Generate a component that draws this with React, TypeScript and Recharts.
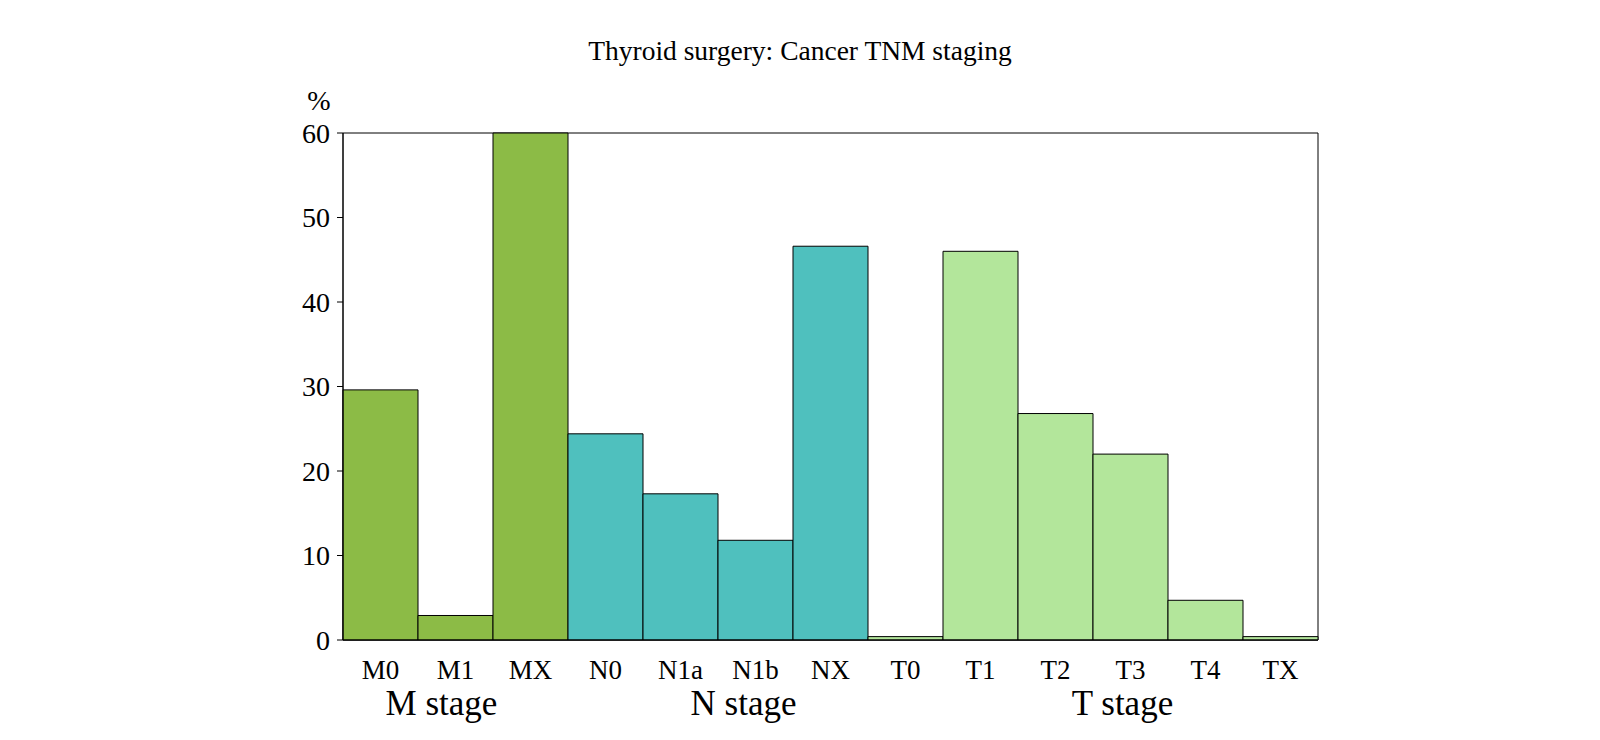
import { BarChart, Bar, XAxis, YAxis, Cell, Label, ReferenceArea } from 'recharts';

const categories = ['M0', 'M1', 'MX', 'N0', 'N1a', 'N1b', 'NX', 'T0', 'T1', 'T2', 'T3', 'T4', 'TX'];
const percentages = [29.6, 2.9, 60, 24.4, 17.3, 11.8, 46.6, 0.4, 46.0, 26.8, 22.0, 4.7, 0.4];
const stages = ['M', 'M', 'M', 'N', 'N', 'N', 'N', 'T', 'T', 'T', 'T', 'T', 'T'];
const yTicks = [0, 10, 20, 30, 40, 50, 60];
const groupLabels = [
  { anchor: 'M1', text: 'M stage' },
  { anchor: 'N1b', text: 'N stage' },
  { anchor: 'T3', text: 'T stage' },
];

const STAGE_COLORS: Record<string, string> = {
  M: '#8cbb46',
  N: '#4fc0be',
  T: '#b3e69b',
};

// group label shift relative to its anchor tick
const GROUP_DX: Record<string, number> = { M1: -14, N1b: -12, T3: -8 };

const chartData = categories.map((name, i) => ({
  name,
  value: percentages[i],
  stage: stages[i],
}));

const CategoryTick = (props: any) => {
  const { x, payload } = props;
  const group = groupLabels.find(g => g.anchor === payload.value);
  return (
    <g>
      <text x={x} y={679} textAnchor="middle" fontSize={27} fill="#000">
        {payload.value}
      </text>
      {group && (
        <text x={x + GROUP_DX[group.anchor]} y={715} textAnchor="middle" fontSize={35} fill="#000">
          {group.text}
        </text>
      )}
    </g>
  );
};

export default function App() {
  return (
    <div
      style={{
        position: 'fixed',
        left: 0,
        top: 0,
        width: 1600,
        height: 740,
        background: '#fff',
        fontFamily: "'Liberation Serif', serif",
      }}
    >
      <div
        style={{
          position: 'absolute',
          left: 0,
          width: 1600,
          top: 34,
          textAlign: 'center',
          fontSize: 27.5,
          lineHeight: '34px',
          color: '#000',
        }}
      >
        Thyroid surgery: Cancer TNM staging
      </div>
      <BarChart
        width={1600}
        height={740}
        data={chartData}
        margin={{ top: 133, right: 282, bottom: 0, left: 0 }}
        barCategoryGap={0}
        style={{ position: 'absolute', left: 0, top: 0 }}
      >
        <XAxis
          dataKey="name"
          axisLine={{ stroke: '#000' }}
          tickLine={false}
          tick={<CategoryTick />}
          interval={0}
          height={100}
        />
        <YAxis
          domain={[0, 60]}
          ticks={yTicks}
          width={343}
          axisLine={{ stroke: '#000' }}
          tickLine={{ stroke: '#000' }}
          tickSize={6}
          tickMargin={7}
          tick={{ fill: '#000', fontSize: 28 }}
        >
          <Label
            content={({ viewBox }: any) => (
              <text x={viewBox.x + viewBox.width - 24} y={viewBox.y - 23} textAnchor="middle" fontSize={28} fill="#000">
                %
              </text>
            )}
          />
        </YAxis>
        <Bar dataKey="value" stroke="#000" strokeWidth={1} isAnimationActive={false}>
          {chartData.map((entry, index) => (
            <Cell key={`cell-${index}`} fill={STAGE_COLORS[entry.stage]} />
          ))}
        </Bar>
        <ReferenceArea y1={0} y2={60} fill="none" fillOpacity={0} stroke="#000" strokeOpacity={1} ifOverflow="visible" />
      </BarChart>
    </div>
  );
}
